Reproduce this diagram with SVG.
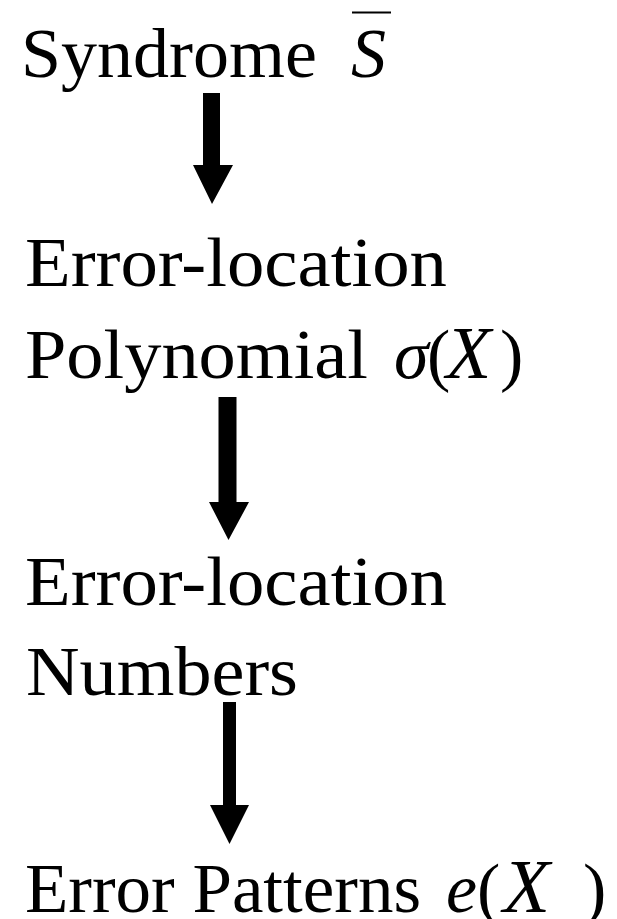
<svg xmlns="http://www.w3.org/2000/svg" width="617" height="919" viewBox="0 0 617 919">
<style>
  .t { font-family: "Liberation Serif", "Times New Roman", serif; font-size: 70px; fill: #000; }
  .i { font-style: italic; }
  .arrow { fill: #000; stroke: none; }
</style>
<rect width="617" height="919" fill="#fff"/>
<g id="syndrome">
  <text class="t" x="21" y="77" textLength="296" lengthAdjust="spacingAndGlyphs">Syndrome</text>
  <text class="t i" x="351" y="77">S</text>
  <line x1="352" y1="12.5" x2="391" y2="12.5" stroke="#000" stroke-width="2.2"/>
</g>
<g id="error-location-polynomial">
  <text class="t" x="25" y="286" textLength="422" lengthAdjust="spacingAndGlyphs">Error-location</text>
  <text class="t" x="25" y="378" textLength="343" lengthAdjust="spacingAndGlyphs">Polynomial</text>
  <text class="t i" x="394" y="378">σ</text>
  <text class="t" x="427" y="378">(</text>
  <text class="t i" x="446" y="378" style="font-size:74px">X</text>
  <text class="t" x="500" y="378">)</text>
</g>
<g id="error-location-numbers">
  <text class="t" x="25" y="605" textLength="422" lengthAdjust="spacingAndGlyphs">Error-location</text>
  <text class="t" x="26" y="695" textLength="272" lengthAdjust="spacingAndGlyphs">Numbers</text>
</g>
<g id="error-patterns">
  <text class="t" x="25" y="912" textLength="396" lengthAdjust="spacingAndGlyphs">Error Patterns</text>
  <text class="t i" x="446" y="912">e</text>
  <text class="t" x="477" y="912">(</text>
  <text class="t i" x="503" y="912" style="font-size:77px">X</text>
  <text class="t" x="583" y="912">)</text>
</g>
<g id="connectors">
  <path class="arrow" d="M203 93 H220 V165 H233 L212 204 L193 165 H203 Z"/>
  <path class="arrow" d="M218.5 397 H236.5 V502 H249 L228.5 540 L209 502 H218.5 Z"/>
  <path class="arrow" d="M223 702 H236 V805 H249 L229.5 844 L210 805 H223 Z"/>
</g>
</svg>
